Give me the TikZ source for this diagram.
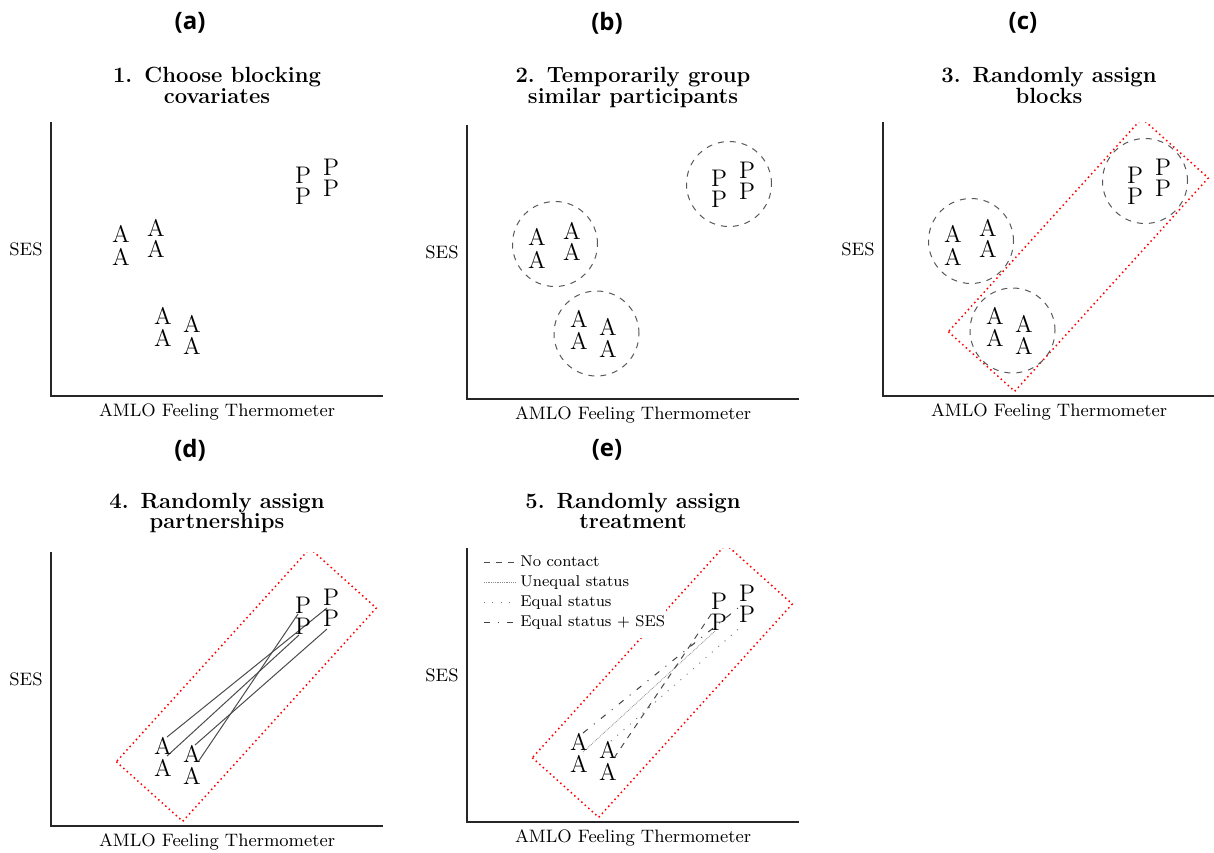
\documentclass[tikz,border=0pt]{standalone}
\usepackage{fontspec}
\newfontfamily\labfont{Open Sans}
\tikzset{
 axisline/.style={line width=0.6pt, draw=black!85},
 xlab/.style={font=\fontsize{9}{11}\selectfont, anchor=base, inner sep=0pt},
 ylab/.style={font=\fontsize{9}{11}\selectfont, inner sep=0pt},
 ltr/.style={font=\fontsize{12}{14}\selectfont, inner sep=0pt},
 sublab/.style={font=\labfont\bfseries\fontsize{12}{14}\selectfont, inner sep=0pt},
 ttl/.style={font=\fontsize{11}{13}\selectfont\bfseries, anchor=base, inner sep=0pt},
 grp/.style={draw=black!65, dashed, line width=0.5pt, circle, minimum size=42.5pt, inner sep=0pt},
 blk/.style={draw=red, line width=0.75pt, dash pattern=on 0.75pt off 1.6pt},
 pair/.style={draw=black!70, line width=0.5pt},
 nocontact/.style={draw=black!70, line width=0.5pt, dashed},
 unequal/.style={draw=black!45, line width=0.4pt, dash pattern=on 0.4pt off 0.5pt},
 equalst/.style={draw=black!50, line width=0.5pt, dash pattern=on 0.5pt off 3.7pt},
 eqses/.style={draw=black!75, line width=0.5pt, loosely dashdotted},
 legtxt/.style={font=\fontsize{7.8}{9}\selectfont, anchor=base west, inner sep=0pt},
}
\newcommand\panelaxes[1]{%
  \draw[axisline] (0,-274) -- (0,0) -- (332,0);
  \node[xlab] (#1xl) at (166,20) {AMLO Feeling Thermometer};
  \node[ylab] (#1yl) at (-25,-147) {SES};
}
\newcommand\upperAs[1]{%
  \node[ltr] (#1u1) at (70,-162) {A};
  \node[ltr] (#1u2) at (70,-139) {A};
  \node[ltr] (#1u3) at (105,-168) {A};
  \node[ltr] (#1u4) at (105,-147) {A};
}
\newcommand\lowerAs[1]{%
  \node[ltr] (#1l1) at (112,-80) {A};
  \node[ltr] (#1l2) at (112,-58) {A};
  \node[ltr] (#1l3) at (141,-72) {A};
  \node[ltr] (#1l4) at (141,-50) {A};
}
\newcommand\Pees[1]{%
  \node[ltr] (#1p1) at (252,-221) {P};
  \node[ltr] (#1p2) at (252,-200) {P};
  \node[ltr] (#1p3) at (280,-229) {P};
  \node[ltr] (#1p4) at (280,-208) {P};
}
\newcommand\blockrect[1]{%
  \coordinate (#1L) at (65.3,-64.3);
  \coordinate (#1B) at (131.7,-4.7);
  \coordinate (#1R) at (325.3,-218);
  \coordinate (#1T) at (258.9,-277.6);
  \begin{scope}
    \clip (0,0) rectangle (332,-274);
    \draw[blk] (#1L) -- (#1B) -- (#1R) -- (#1T) -- cycle;
  \end{scope}
}
\newcommand\pairpts[1]{%
  \coordinate (#1e1) at (116,-89);
  \coordinate (#1e2) at (116,-70);
  \coordinate (#1e3) at (144,-81);
  \coordinate (#1e4) at (147,-64);
  \coordinate (#1f1) at (247,-212);
  \coordinate (#1f2) at (248,-191);
  \coordinate (#1f3) at (276,-218);
  \coordinate (#1f4) at (276,-197);
}
\begin{document}
\begin{tikzpicture}[x=0.5pt,y=-0.5pt]
\useasboundingbox (0,0) rectangle (1214,852);
\fill[white] (0,0) rectangle (1214,852);

% ---------- (a)
\node[sublab] (la) at (190,23) {(a)};
\node[ttl] (ta1) at (217,82) {1.\hspace{6pt}Choose blocking};
\node[ttl] (ta2) at (217,103) {covariates};
\begin{scope}[shift={(51,396)}]
  \panelaxes{a}
  \upperAs{a}
  \lowerAs{a}
  \Pees{a}
\end{scope}

% ---------- (b)
\node[sublab] (lb) at (607,23) {(b)};
\node[ttl] (tb1) at (633,82) {2.\hspace{6pt}Temporarily group};
\node[ttl] (tb2) at (633,103) {similar participants};
\begin{scope}[shift={(467,399)}]
  \panelaxes{b}
  \node[grp] (bc1) at (88,-155) {};
  \node[grp] (bc2) at (129.5,-65.5) {};
  \node[grp] (bc3) at (262,-215) {};
  \upperAs{b}
  \lowerAs{b}
  \Pees{b}
\end{scope}

% ---------- (c)
\node[sublab] (lc) at (1023,23) {(c)};
\node[ttl] (tc1) at (1049,82) {3.\hspace{6pt}Randomly assign};
\node[ttl] (tc2) at (1049,103) {blocks};
\begin{scope}[shift={(883,396)}]
  \panelaxes{c}
  \blockrect{c}
  \node[grp] (cc1) at (88,-155) {};
  \node[grp] (cc2) at (129.5,-65.5) {};
  \node[grp] (cc3) at (262,-215) {};
  \upperAs{c}
  \lowerAs{c}
  \Pees{c}
\end{scope}

% ---------- (d)
\node[sublab] (ld) at (190,450) {(d)};
\node[ttl] (td1) at (217,508) {4.\hspace{6pt}Randomly assign};
\node[ttl] (td2) at (217,528) {partnerships};
\begin{scope}[shift={(51,826)}]
  \panelaxes{d}
  \blockrect{d}
  \pairpts{d}
  \draw[pair] (de1) -- (df3);
  \draw[pair] (de2) -- (df2);
  \draw[pair] (de3) -- (df4);
  \draw[pair] (de4) -- (df1);
  \lowerAs{d}
  \Pees{d}
\end{scope}

% ---------- (e)
\node[sublab] (le) at (607,450) {(e)};
\node[ttl] (te1) at (633,508) {5.\hspace{6pt}Randomly assign};
\node[ttl] (te2) at (633,528) {treatment};
\begin{scope}[shift={(467,822)}]
  \panelaxes{e}
  \blockrect{e}
  \pairpts{e}
  \draw[eqses] (ee1) -- (ef3);
  \draw[unequal] (ee2) -- (ef2);
  \draw[equalst] (ee3) -- (ef4);
  \draw[nocontact] (ee4) -- (ef1);
  \lowerAs{e}
  \Pees{e}
  % legend
  \fill[white] (10,-272) rectangle (199,-184);
  \coordinate (g1a) at (17,-260); \coordinate (g1b) at (48,-260);
  \coordinate (g2a) at (17,-240); \coordinate (g2b) at (48,-240);
  \coordinate (g3a) at (17,-220); \coordinate (g3b) at (48,-220);
  \coordinate (g4a) at (17,-200); \coordinate (g4b) at (48,-200);
  \draw[nocontact] (g1a) -- (g1b);
  \draw[unequal] (g2a) -- (g2b);
  \draw[equalst] (g3a) -- (g3b);
  \draw[eqses] (g4a) -- (g4b);
  \node[legtxt] (gt1) at (53,-255.5) {No contact};
  \node[legtxt] (gt2) at (53,-235.5) {Unequal status};
  \node[legtxt] (gt3) at (53,-215.5) {Equal status};
  \node[legtxt] (gt4) at (53,-195.5) {Equal status + SES};
\end{scope}
\end{tikzpicture}
\end{document}
